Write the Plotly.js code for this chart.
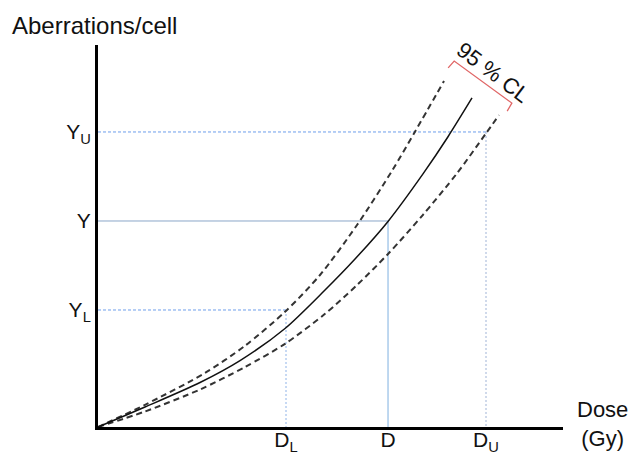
<!DOCTYPE html>
<html>
<head>
<meta charset="utf-8">
<script src="https://cdn.plot.ly/plotly-3.0.1.min.js"></script>
<style>html,body{margin:0;padding:0;background:#fff;}#chart{width:633px;height:455px;}</style>
</head>
<body>
<div id="chart"></div>
<script>
// Fitted dose-response curve (schematic, arbitrary units)
const doseFit   = [0, 1.011, 2.194, 3.054, 4.022, 4.882, 5.527, 6.237, 6.989, 7.527, 8.043];
const yieldFit  = [0, 0.524, 1.165, 1.738, 2.579, 3.586, 4.398, 5.382, 6.626, 7.599, 8.613];
// Upper 95% confidence limit
const doseUpper  = [0, 1.011, 2.301, 3.161, 4.022, 4.774, 5.570, 6.323, 6.817, 7.441];
const yieldUpper = [0, 0.581, 1.414, 2.126, 3.016, 3.979, 5.288, 6.707, 7.730, 9.058];
// Lower 95% confidence limit
const doseLower  = [0, 1.011, 2.194, 3.161, 4.022, 4.882, 5.570, 6.237, 6.989, 7.720, 8.344, 8.624];
const yieldLower = [0, 0.406, 0.982, 1.571, 2.178, 2.963, 3.717, 4.529, 5.555, 6.641, 7.688, 8.165];
// Estimated dose and limits
const D = 6.237, DL = 4.043, DU = 8.344;
const Y = 5.393, YL = 3.063, YU = 7.723;
const xTickVals = [DL, D, DU];
const xTickLabels = ['D<sub>L</sub>', 'D', 'D<sub>U</sub>'];
const yTickVals = [YL, Y, YU];
const yTickLabels = ['Y<sub>L</sub>', 'Y', 'Y<sub>U</sub>'];
// 95 % CL bracket
const bracketX = [7.53, 7.66, 8.90, 8.80];
const bracketY = [9.40, 9.58, 8.48, 8.27];

const FONT = 'Liberation Sans, Arial, sans-serif';
const dashedBlue = '#6d9eeb';

const traces = [
  // reference lines
  {x: [0, DU], y: [YU, YU], mode: 'lines', line: {color: dashedBlue, width: 1, dash: '3px,2px'}},
  {x: [DU, DU], y: [YU, 0], mode: 'lines', line: {color: '#9fb3d6', width: 1, dash: '2px,2px'}},
  {x: [0, D], y: [Y, Y], mode: 'lines', line: {color: '#8aa6c8', width: 1}},
  {x: [D, D], y: [Y, 0], mode: 'lines', line: {color: '#7fb0e0', width: 1}},
  {x: [0, DL], y: [YL, YL], mode: 'lines', line: {color: dashedBlue, width: 1, dash: '3px,2px'}},
  {x: [DL, DL], y: [YL, 0], mode: 'lines', line: {color: '#8fb3e8', width: 1, dash: '2px,2px'}},
  // curves
  {x: doseUpper, y: yieldUpper, mode: 'lines', line: {color: '#333', width: 2, dash: '6px,4px', shape: 'spline', smoothing: 0.8}},
  {x: doseLower, y: yieldLower, mode: 'lines', line: {color: '#333', width: 2, dash: '6px,4px', shape: 'spline', smoothing: 0.8}},
  {x: doseFit, y: yieldFit, mode: 'lines', line: {color: '#111', width: 1.5, shape: 'spline', smoothing: 0.8}},
  // bracket
  {x: bracketX, y: bracketY, mode: 'lines', line: {color: '#e06666', width: 1.3}}
];

const layout = {
  width: 633, height: 455,
  margin: {l: 98, r: 70, t: 45, b: 28},
  paper_bgcolor: '#fff', plot_bgcolor: '#fff',
  showlegend: false,
  font: {family: FONT, color: '#111', size: 20},
  xaxis: {
    range: [0, 10], showgrid: false, zeroline: false,
    showline: true, linecolor: '#000', linewidth: 3,
    tickvals: xTickVals, ticktext: xTickLabels, ticks: '',
    ticklabelstandoff: -8,
    tickfont: {family: FONT, size: 21, color: '#111'}, fixedrange: true
  },
  yaxis: {
    range: [0, 10], showgrid: false, zeroline: false,
    showline: true, linecolor: '#000', linewidth: 3,
    tickvals: yTickVals, ticktext: yTickLabels, ticks: '',
    tickfont: {family: FONT, size: 21, color: '#111'}, fixedrange: true
  },
  annotations: [
    {text: 'Aberrations/cell', xref: 'paper', yref: 'paper', x: -0.189, y: 1.051,
     xanchor: 'left', yanchor: 'middle', showarrow: false, font: {family: FONT, size: 24, color: '#111'}},
    {text: 'Dose<br>(Gy)', xref: 'paper', yref: 'paper', x: 1.084, y: 0.008,
     xanchor: 'center', yanchor: 'middle', showarrow: false, font: {family: FONT, size: 22, color: '#111'}},
    {text: '95 % CL', xref: 'x', yref: 'y', x: 8.5, y: 9.28, textangle: 37,
     xanchor: 'center', yanchor: 'middle', showarrow: false, font: {family: FONT, size: 22, color: '#111'}}
  ]
};

Plotly.newPlot('chart', traces, layout, {displayModeBar: false, staticPlot: true});
</script>
</body>
</html>
